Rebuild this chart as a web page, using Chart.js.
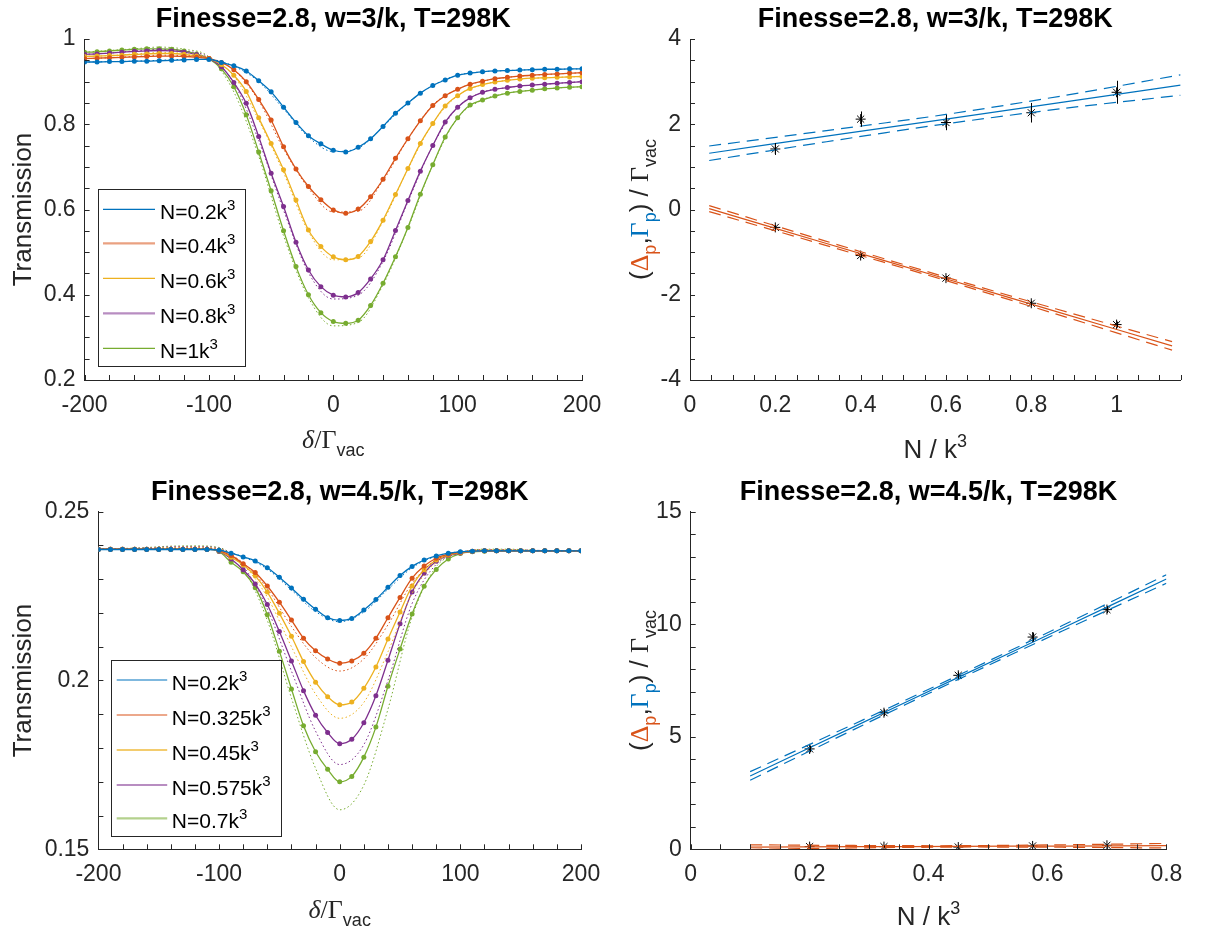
<!DOCTYPE html>
<html>
<head>
<meta charset="utf-8">
<script src="https://cdn.jsdelivr.net/npm/chart.js@4.4.0/dist/chart.umd.min.js"></script>
<style>
  body { margin: 0; background: #fff; width: 1208px; height: 935px; position: relative; overflow: hidden; }
  canvas { position: absolute; }
</style>
</head>
<body>
<canvas id="tl"></canvas>
<canvas id="tr"></canvas>
<canvas id="bl"></canvas>
<canvas id="br"></canvas>
<script>
// ---- data ----
const detuning = [-200,-190,-180,-170,-160,-150,-140,-130,-120,-110,
                  -100,-90,-80,-70,-60,-50,-40,-30,-20,-10,
                  0,10,20,30,40,50,60,70,80,90,
                  100,110,120,130,140,150,160,170,180,190,200];
const detuningModel = [-200,-180,-160,-140,-120,-100,-80,-60,-40,-20,0,
                       20,40,60,80,100,120,140,160,180,200];

// top row, w=3/k : measured points + fit (same samples)
const transA_02 = [.946,.946,.947,.947,.948,.948,.949,.950,.951,.952,
                   .952,.945,.937,.925,.902,.876,.840,.804,.773,.754,
                   .739,.735,.746,.766,.795,.826,.850,.873,.891,.904,
                   .915,.920,.923,.925,.926,.927,.928,.929,.929,.930,.930];
const transA_04 = [.954,.955,.956,.957,.958,.959,.960,.960,.959,.957,
                   .954,.945,.928,.900,.858,.810,.747,.695,.654,.623,
                   .599,.591,.601,.630,.671,.720,.766,.808,.844,.867,
                   .882,.894,.901,.907,.910,.913,.915,.917,.918,.920,.921];
const transA_06 = [.959,.960,.961,.962,.964,.965,.966,.966,.964,.960,
                   .954,.940,.915,.877,.815,.755,.693,.622,.552,.513,
                   .489,.482,.490,.525,.575,.635,.696,.755,.802,.843,
                   .867,.884,.893,.899,.903,.906,.908,.909,.910,.911,.912];
const transA_08 = [.964,.965,.967,.969,.971,.972,.973,.972,.969,.963,
                   .954,.935,.898,.849,.771,.685,.607,.523,.458,.419,
                   .399,.395,.405,.437,.482,.551,.621,.690,.750,.805,
                   .840,.862,.875,.882,.886,.890,.892,.894,.896,.898,.900];
const transA_10 = [.969,.970,.972,.974,.976,.977,.977,.976,.972,.965,
                   .954,.930,.888,.822,.735,.644,.550,.466,.400,.358,
                   .337,.333,.340,.375,.427,.489,.558,.636,.705,.770,
                   .815,.845,.857,.866,.873,.877,.880,.883,.885,.887,.888];
// dotted model curves
const modelA_02 = [.946,.947,.948,.950,.952,.952,.936,.900,.836,.770,.736,.744,.794,.850,.891,.915,.923,.926,.928,.929,.930];
const modelA_04 = [.954,.956,.959,.962,.961,.955,.927,.855,.742,.650,.594,.596,.668,.765,.845,.882,.901,.910,.915,.918,.921];
const modelA_06 = [.959,.961,.965,.968,.966,.956,.913,.810,.686,.548,.482,.486,.572,.695,.802,.867,.893,.903,.908,.910,.912];
const modelA_08 = [.964,.967,.972,.976,.972,.957,.897,.762,.598,.452,.390,.399,.478,.618,.750,.840,.875,.886,.892,.896,.900];
const modelA_10 = [.969,.973,.977,.981,.976,.958,.876,.725,.538,.393,.327,.335,.423,.556,.705,.815,.857,.873,.880,.885,.888];

// bottom row, w=4.5/k
const transB_0200 = [.2388,.2388,.2388,.2388,.2388,.2388,.2388,.2388,.2388,.2388,
                     .2386,.2377,.2366,.2354,.2334,.2306,.2274,.2241,.2211,.2186,
                     .2178,.2184,.2209,.2240,.2276,.2311,.2338,.2357,.2369,.2377,
                     .2381,.2383,.2384,.2384,.2384,.2384,.2384,.2384,.2384,.2384,.2384];
const transB_0325 = [.2389,.2389,.2389,.2389,.2389,.2389,.2389,.2389,.2389,.2389,
                     .2385,.2370,.2346,.2320,.2280,.2232,.2179,.2125,.2088,.2064,
                     .2051,.2058,.2081,.2125,.2186,.2246,.2303,.2339,.2362,.2374,
                     .2380,.2383,.2384,.2384,.2384,.2384,.2384,.2384,.2384,.2384,.2384];
const transB_0450 = [.2389,.2389,.2389,.2389,.2389,.2389,.2389,.2389,.2389,.2389,
                     .2384,.2365,.2342,.2310,.2262,.2199,.2131,.2056,.1995,.1952,
                     .1928,.1936,.1977,.2040,.2123,.2203,.2280,.2328,.2357,.2372,
                     .2379,.2382,.2384,.2384,.2384,.2384,.2384,.2384,.2384,.2384,.2384];
const transB_0575 = [.2389,.2389,.2389,.2389,.2389,.2389,.2389,.2389,.2389,.2389,
                     .2383,.2360,.2328,.2286,.2225,.2145,.2058,.1970,.1897,.1846,
                     .1813,.1826,.1875,.1955,.2060,.2168,.2262,.2318,.2353,.2370,
                     .2378,.2382,.2384,.2384,.2384,.2384,.2384,.2384,.2384,.2384,.2384];
const transB_0700 = [.2389,.2389,.2389,.2389,.2389,.2389,.2389,.2389,.2389,.2389,
                     .2382,.2350,.2322,.2275,.2195,.2087,.1975,.1866,.1789,.1737,
                     .1700,.1716,.1773,.1862,.1983,.2093,.2197,.2279,.2329,.2360,
                     .2376,.2381,.2383,.2384,.2384,.2384,.2384,.2384,.2384,.2384,.2384];
const modelB_0200 = [.2389,.2389,.2390,.2391,.2391,.2387,.2366,.2330,.2268,.2204,.2174,.2203,.2270,.2334,.2368,.2382,.2385,.2385,.2384,.2384,.2384];
const modelB_0325 = [.2389,.2390,.2391,.2392,.2393,.2388,.2348,.2272,.2160,.2068,.2028,.2064,.2165,.2288,.2357,.2380,.2386,.2386,.2385,.2384,.2384];
const modelB_0450 = [.2389,.2390,.2392,.2394,.2395,.2390,.2343,.2247,.2100,.1960,.1888,.1935,.2085,.2258,.2350,.2379,.2387,.2387,.2385,.2384,.2384];
const modelB_0575 = [.2389,.2390,.2393,.2396,.2397,.2392,.2338,.2212,.2028,.1850,.1751,.1810,.2000,.2228,.2344,.2378,.2388,.2388,.2386,.2384,.2384];
const modelB_0700 = [.2389,.2391,.2394,.2398,.2399,.2394,.2332,.2178,.1948,.1740,.1617,.1690,.1915,.2188,.2337,.2377,.2389,.2389,.2386,.2384,.2384];

const densityA = ['0.2', '0.4', '0.6', '0.8', '1'];
const densityB = ['0.2', '0.325', '0.45', '0.575', '0.7'];

// right column: extracted shift / width vs density
const nA = [0.2, 0.4, 0.6, 0.8, 1.0];
const gammaA = [1.42, 2.12, 2.04, 2.27, 2.75];
const gammaErrA = [0.14, 0.18, 0.18, 0.23, 0.27];
const deltaA = [-0.42, -1.08, -1.61, -2.20, -2.70];
const deltaErrA = [0.05, 0.05, 0.05, 0.06, 0.07];
const gammaFitNA = [0.045, 0.32, 0.6, 0.875, 1.15];
const gammaFitA = [1.32, 1.72, 2.12, 2.52, 2.92];
const gammaHiA = [1.49, 1.85, 2.23, 2.67, 3.16];
const gammaLoA = [1.15, 1.59, 2.01, 2.37, 2.68];
const deltaFitNA = [0.045, 0.316, 0.5875, 0.859, 1.13];
const deltaFitA = [0.02, -0.785, -1.59, -2.395, -3.20];
const deltaHiA = [0.09, -0.735, -1.55, -2.335, -3.10];
const deltaLoA = [-0.05, -0.835, -1.63, -2.455, -3.30];

const nB = [0.2, 0.325, 0.45, 0.575, 0.7];
const gammaB = [4.46, 6.07, 7.73, 9.43, 10.65];
const gammaErrB = [0.15, 0.15, 0.15, 0.2, 0.15];
const deltaB = [0.12, 0.12, 0.10, 0.15, 0.18];
const deltaErrB = [0.05, 0.05, 0.05, 0.05, 0.05];
const fitNB = [0.1, 0.275, 0.45, 0.625, 0.8];
const gammaFitB = [3.26, 5.45, 7.64, 9.82, 12.01];
const gammaHiB = [3.45, 5.57, 7.73, 9.94, 12.20];
const gammaLoB = [3.07, 5.33, 7.55, 9.70, 11.82];
const deltaFitB = [0.10, 0.115, 0.13, 0.145, 0.16];
const deltaHiB = [0.20, 0.17, 0.16, 0.20, 0.26];
const deltaLoB = [0.00, 0.06, 0.10, 0.09, 0.06];

// ---- styling ----
const SANS = "'Liberation Sans', Arial, Helvetica, sans-serif";
const SERIF = "'Liberation Serif', 'Times New Roman', serif";
const INK = '#262626';
const colors = ['#0072BD', '#D95319', '#EDB120', '#7E2F8E', '#77AC30'];
const TICK_PX = 23, LABEL_PX = 26, TITLE_PX = 27, LEG_PX = 21;

function pts(xs, ys) { return xs.map((x, i) => ({ x: x, y: ys[i] })); }
function isMajor(v, step) { return Math.abs(v / step - Math.round(v / step)) < 1e-6; }

function drawRuns(ctx, runs, x, y, rot) {
  ctx.save();
  ctx.translate(x, y);
  if (rot) ctx.rotate(rot);
  let w = 0;
  runs.forEach(r => { ctx.font = r.f; w += ctx.measureText(r.t).width; });
  let cx = -w / 2;
  ctx.textBaseline = 'alphabetic';
  ctx.textAlign = 'left';
  runs.forEach(r => {
    ctx.font = r.f;
    ctx.fillStyle = r.c || INK;
    ctx.fillText(r.t, cx, r.dy || 0);
    cx += ctx.measureText(r.t).width;
  });
  ctx.restore();
}

const fLab = LABEL_PX + 'px ' + SANS;
const fSub = '18px ' + SANS;
const fGreek = LABEL_PX + 'px ' + SERIF;
const deltaLabel = [
  { t: 'δ', f: 'italic ' + LABEL_PX + 'px ' + SERIF },
  { t: '/Γ', f: fGreek },
  { t: 'vac', f: fSub, dy: 8 }
];
const densityLabel = [
  { t: 'N / k', f: fLab },
  { t: '3', f: fSub, dy: -11 }
];
const transLabel = [{ t: 'Transmission', f: fLab }];
const shiftLabel = [
  { t: '(', f: fLab },
  { t: 'Δ', f: fGreek, c: colors[1] },
  { t: 'p', f: fSub, dy: 8, c: colors[1] },
  { t: ',', f: fLab },
  { t: 'Γ', f: fGreek, c: colors[0] },
  { t: 'p', f: fSub, dy: 8, c: colors[0] },
  { t: ') / ', f: fLab },
  { t: 'Γ', f: fGreek },
  { t: 'vac', f: fSub, dy: 8 }
];

function decor(cfg) {
  return {
    id: 'decor' + cfg.id,
    afterDatasetsDraw(chart) {
      if (!cfg.errors) return;
      const ctx = chart.ctx, sx = chart.scales.x, sy = chart.scales.y;
      ctx.save();
      ctx.strokeStyle = '#000';
      ctx.lineWidth = 1;
      ctx.beginPath();
      cfg.errors.forEach(e => {
        e.x.forEach((x, i) => {
          const px = Math.round(sx.getPixelForValue(x)) + 0.5;
          ctx.moveTo(px, sy.getPixelForValue(e.y[i] - e.e[i]));
          ctx.lineTo(px, sy.getPixelForValue(e.y[i] + e.e[i]));
        });
      });
      ctx.stroke();
      ctx.restore();
    },
    afterDraw(chart) {
      const ctx = chart.ctx, a = chart.chartArea, sx = chart.scales.x, sy = chart.scales.y;
      ctx.save();
      // inward ticks, MATLAB style
      ctx.strokeStyle = INK;
      ctx.lineWidth = 1;
      ctx.beginPath();
      sx.ticks.forEach(t => {
        const p = Math.round(sx.getPixelForValue(t.value)) + 0.5;
        ctx.moveTo(p, a.bottom); ctx.lineTo(p, a.bottom - 5);
      });
      sy.ticks.forEach(t => {
        const p = Math.round(sy.getPixelForValue(t.value)) + 0.5;
        ctx.moveTo(a.left, p); ctx.lineTo(a.left + 5, p);
      });
      ctx.stroke();

      // the rest is placed in page coordinates
      ctx.translate(-cfg.box[0], -cfg.box[1]);
      const cxm = (cfg.area[0] + cfg.area[2]) / 2;
      const cym = (cfg.area[1] + cfg.area[3]) / 2;
      drawRuns(ctx, [{ t: cfg.title, f: 'bold ' + TITLE_PX + 'px ' + SANS, c: '#000' }], cxm, cfg.titleY);
      drawRuns(ctx, cfg.xlabel, cxm, cfg.xlabelY);
      drawRuns(ctx, cfg.ylabel, cfg.ylabelX, cym, -Math.PI / 2);

      if (cfg.legend) {
        const L = cfg.legend;
        ctx.fillStyle = '#fff';
        ctx.fillRect(L.box[0], L.box[1], L.box[2] - L.box[0], L.box[3] - L.box[1]);
        ctx.strokeStyle = INK;
        ctx.lineWidth = 1;
        ctx.strokeRect(Math.round(L.box[0]) + 0.5, Math.round(L.box[1]) + 0.5,
                       Math.round(L.box[2] - L.box[0]), Math.round(L.box[3] - L.box[1]));
        L.names.forEach((n, i) => {
          const y = L.rows[i];
          ctx.strokeStyle = colors[i];
          ctx.globalAlpha = L.alpha[i];
          ctx.lineWidth = L.widths[i];
          ctx.beginPath();
          ctx.moveTo(L.line[0], y); ctx.lineTo(L.line[1], y);
          ctx.stroke();
          ctx.globalAlpha = 1;
          ctx.textAlign = 'left';
          ctx.textBaseline = 'alphabetic';
          ctx.fillStyle = '#000';
          ctx.font = LEG_PX + 'px ' + SANS;
          const s = 'N=' + n + 'k';
          ctx.fillText(s, L.textX, y + 10);
          const w = ctx.measureText(s).width;
          ctx.font = '15px ' + SANS;
          ctx.fillText('3', L.textX + w, y + 1);
        });
      }
      ctx.restore();
    }
  };
}

function axis(min, max, step, major, fmt) {
  return {
    type: 'linear', min: min, max: max,
    ticks: {
      stepSize: step, autoSkip: false, maxRotation: 0, minRotation: 0,
      color: INK, font: { family: SANS, size: TICK_PX }, padding: 9,
      callback: v => isMajor(v, major) ? fmt(v) : ''
    },
    grid: { display: false, drawTicks: false },
    border: { display: true, color: INK, width: 1 }
  };
}

function makeChart(cfg, datasets, xAxis, yAxis) {
  const cv = document.getElementById(cfg.id);
  const [bx, by, bw, bh] = cfg.box;
  cv.width = bw; cv.height = bh;
  cv.style.left = bx + 'px'; cv.style.top = by + 'px';
  cv.style.width = bw + 'px'; cv.style.height = bh + 'px';
  const [L, T, R, B] = cfg.area;
  xAxis.ticks.padding = cfg.xPad;
  xAxis.afterFit = s => { s.height = by + bh - B; s.paddingLeft = 0; s.paddingRight = 0; };
  yAxis.afterFit = s => { s.width = L - bx; s.paddingTop = 0; s.paddingBottom = 0; };
  return new Chart(cv, {
    type: 'line',
    data: { datasets: datasets },
    options: {
      responsive: false, animation: false, devicePixelRatio: 1,
      layout: { padding: { top: T - by, right: bx + bw - R, left: 0, bottom: 0 } },
      plugins: { legend: { display: false }, tooltip: { enabled: false } },
      events: [],
      scales: { x: xAxis, y: yAxis }
    },
    plugins: [decor(cfg)]
  });
}

function transSets(fits, models) {
  const sets = [];
  fits.forEach((f, i) => {
    sets.push({
      data: pts(detuning, f), borderColor: colors[i], backgroundColor: colors[i],
      borderWidth: 1.3, pointRadius: 2.5, pointBorderWidth: 0, pointBackgroundColor: colors[i],
      cubicInterpolationMode: 'monotone', fill: false
    });
    sets.push({
      data: pts(detuningModel, models[i]), borderColor: colors[i],
      borderWidth: 1, borderDash: [1.5, 2.5], pointRadius: 0,
      cubicInterpolationMode: 'monotone', fill: false
    });
  });
  return sets;
}

function line(xs, ys, color, dash) {
  return { data: pts(xs, ys), borderColor: color, borderWidth: 1.2, borderDash: dash || [],
           pointRadius: 0, tension: 0.3, fill: false };
}
function stars(xs, ys) {
  return { data: pts(xs, ys), showLine: false, pointStyle: 'star', pointRadius: 5,
           pointBorderColor: '#000', pointBorderWidth: 1, borderColor: '#000' };
}

const DASH = [12, 7];
const fmt = v => String(+v.toFixed(3));

const titleA = 'Finesse=2.8, w=3/k, T=298K';
const titleB = 'Finesse=2.8, w=4.5/k, T=298K';

makeChart({
  id: 'tl', box: [0, 0, 604, 467], area: [84.6, 39, 582, 380], xPad: 12,
  title: titleA, titleY: 27, xlabel: deltaLabel, xlabelY: 448, ylabel: transLabel, ylabelX: 31,
  legend: { box: [98.4, 188.7, 245, 365.7], rows: [209.3, 243.3, 278.3, 313.3, 348.3],
            line: [103, 155], textX: 160, names: densityA,
            widths: [1.2, 2.2, 1.2, 2.2, 1.2], alpha: [1, 0.55, 1, 0.55, 1] }
}, transSets([transA_02, transA_04, transA_06, transA_08, transA_10],
             [modelA_02, modelA_04, modelA_06, modelA_08, modelA_10]),
   axis(-200, 200, 20, 100, fmt), axis(0.2, 1, 0.05, 0.2, fmt));

makeChart({
  id: 'tr', box: [604, 0, 604, 467], area: [690, 39, 1180.6, 380], xPad: 12,
  title: titleA, titleY: 27, xlabel: densityLabel, xlabelY: 458, ylabel: shiftLabel, ylabelX: 648,
  errors: [{ x: nA, y: gammaA, e: gammaErrA }, { x: nA, y: deltaA, e: deltaErrA }]
}, [
  line(gammaFitNA, gammaFitA, colors[0]), line(gammaFitNA, gammaHiA, colors[0], DASH), line(gammaFitNA, gammaLoA, colors[0], DASH),
  line(deltaFitNA, deltaFitA, colors[1]), line(deltaFitNA, deltaHiA, colors[1], DASH), line(deltaFitNA, deltaLoA, colors[1], DASH),
  stars(nA, gammaA), stars(nA, deltaA)
], axis(0, 1.15, 0.05, 0.2, fmt), axis(-4, 4, 0.5, 2, fmt));

makeChart({
  id: 'bl', box: [0, 467, 604, 468], area: [98.4, 511.7, 581, 849.3], xPad: 12,
  title: titleB, titleY: 500, xlabel: deltaLabel, xlabelY: 918, ylabel: transLabel, ylabelX: 31,
  legend: { box: [111.4, 660, 281.3, 835.7], rows: [680, 715, 750, 785, 818.3],
            line: [116.7, 167.2], textX: 171.8, names: densityB,
            widths: [1.2, 1.2, 1.8, 2.2, 2.2], alpha: [1, 1, 0.65, 0.55, 0.55] }
}, transSets([transB_0200, transB_0325, transB_0450, transB_0575, transB_0700],
             [modelB_0200, modelB_0325, modelB_0450, modelB_0575, modelB_0700]),
   axis(-200, 200, 20, 100, fmt), axis(0.15, 0.25, 0.01, 0.05, fmt));

makeChart({
  id: 'br', box: [604, 467, 604, 468], area: [690.7, 511.7, 1166.4, 849.3], xPad: 12,
  title: titleB, titleY: 500, xlabel: densityLabel, xlabelY: 925, ylabel: shiftLabel, ylabelX: 648,
  errors: [{ x: nB, y: gammaB, e: gammaErrB }, { x: nB, y: deltaB, e: deltaErrB }]
}, [
  line(fitNB, gammaFitB, colors[0]), line(fitNB, gammaHiB, colors[0], DASH), line(fitNB, gammaLoB, colors[0], DASH),
  line(fitNB, deltaFitB, colors[1]), line(fitNB, deltaHiB, colors[1], DASH), line(fitNB, deltaLoB, colors[1], DASH),
  stars(nB, gammaB), stars(nB, deltaB)
], axis(0, 0.8, 0.05, 0.2, fmt), axis(0, 15, 1, 5, fmt));
</script>
</body>
</html>
